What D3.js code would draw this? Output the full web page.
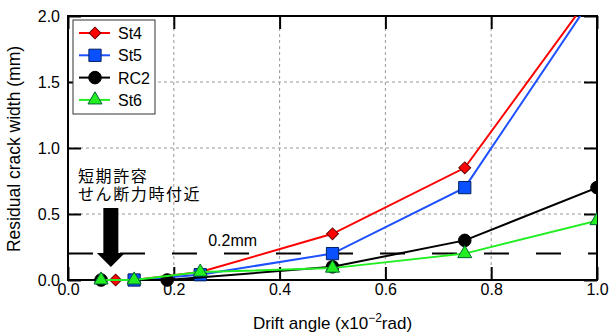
<!DOCTYPE html>
<html>
<head>
<meta charset="utf-8">
<script src="https://cdn.jsdelivr.net/npm/d3@7"></script>
<style>
  body { margin: 0; background: #fff; }
  text { font-family: "Liberation Sans", Arial, sans-serif; }
  .jp { font-family: "Noto Sans CJK JP", sans-serif; }
</style>
</head>
<body>
<svg id="chart"></svg>
<script>
// Series data (drift x10^-2 rad, residual crack width mm)
const st4Drift = [0.09, 0.125, 0.25, 0.5, 0.75, 1.0];
const st4Width = [0, 0, 0.06, 0.35, 0.85, 2.22];
const st5Drift = [0.125, 0.25, 0.5, 0.75, 1.0];
const st5Width = [0, 0.04, 0.2, 0.7, 2.19];
const rc2Drift = [0.0625, 0.1875, 0.5, 0.75, 1.0];
const rc2Width = [0, 0, 0.1, 0.3, 0.7];
const st6Drift = [0.0625, 0.125, 0.25, 0.5, 0.75, 1.0];
const st6Width = [0, 0, 0.06, 0.09, 0.2, 0.45];

const xTicks = [0, 0.2, 0.4, 0.6, 0.8, 1.0];
const yTicks = [0, 0.5, 1.0, 1.5, 2.0];
const limitWidth = 0.2;     // 0.2mm reference line
const arrowDrift = 0.081;   // short-term allowable shear marker

const W = 609, H = 334;
const margin = { top: 16, right: 12, bottom: 54, left: 68 };
const width = W - margin.left - margin.right;
const height = H - margin.top - margin.bottom;

const svg = d3.select("#chart").attr("width", W).attr("height", H);
const g = svg.append("g").attr("transform", `translate(${margin.left},${margin.top})`);

const x = d3.scaleLinear().domain([0, 1]).range([0, width]);
const y = d3.scaleLinear().domain([0, 2]).range([height, 0]);

// grid
g.append("g").selectAll("line").data(xTicks.slice(1, -1)).enter().append("line")
  .attr("x1", d => x(d)).attr("x2", d => x(d)).attr("y1", 0).attr("y2", height)
  .attr("stroke", "#999").attr("stroke-dasharray", "3,3");
g.append("g").selectAll("line").data(yTicks.slice(1, -1)).enter().append("line")
  .attr("y1", d => y(d)).attr("y2", d => y(d)).attr("x1", 0).attr("x2", width)
  .attr("stroke", "#999").attr("stroke-dasharray", "3,3");

// 0.2mm dashed line
g.append("line")
  .attr("x1", x(0)).attr("x2", x(1)).attr("y1", y(limitWidth)).attr("y2", y(limitWidth))
  .attr("stroke", "#000").attr("stroke-width", 2).attr("stroke-dasharray", "25,27");
g.append("text").attr("x", x(0.265)).attr("y", y(limitWidth) - 8)
  .attr("font-size", 16).text("0.2mm");

// axes with inward ticks on all sides
const tickLen = 13;
const axB = g.append("g").attr("transform", `translate(0,${height})`)
  .call(d3.axisBottom(x).tickValues(xTicks).tickSize(-tickLen).tickPadding(4).tickFormat(d3.format(".1f")));
const axT = g.append("g")
  .call(d3.axisTop(x).tickValues(xTicks).tickSize(-tickLen).tickFormat(""));
const axL = g.append("g")
  .call(d3.axisLeft(y).tickValues(yTicks).tickSize(-tickLen).tickPadding(8).tickFormat(d3.format(".1f")));
const axR = g.append("g").attr("transform", `translate(${width},0)`)
  .call(d3.axisRight(y).tickValues(yTicks).tickSize(-tickLen).tickFormat(""));
[axB, axT, axL, axR].forEach(a => {
  a.select(".domain").remove();
  a.selectAll(".tick line").attr("stroke", "#000").attr("stroke-width", 2);
  a.selectAll("text").attr("font-size", 16).attr("fill", "#000")
    .attr("font-family", "'Liberation Sans', Arial, sans-serif");
});

// frame
g.append("rect").attr("width", width).attr("height", height)
  .attr("fill", "none").attr("stroke", "#000").attr("stroke-width", 2);

// series
svg.append("clipPath").attr("id", "plotClip")
  .append("rect").attr("x", -8).attr("y", 0).attr("width", width + 8).attr("height", height + 10);

const series = [
  { name: "St4", xs: st4Drift, ys: st4Width, color: "#ff0000", fill: "#ff0000", stroke: "#600", symbol: d3.symbolSquare, size: 70, rot: 45 },
  { name: "St5", xs: st5Drift, ys: st5Width, color: "#1e50ff", fill: "#0a50ff", stroke: "#002060", symbol: d3.symbolSquare, size: 150, rot: 0 },
  { name: "RC2", xs: rc2Drift, ys: rc2Width, color: "#000000", fill: "#000000", stroke: "#000", symbol: d3.symbolCircle, size: 125, rot: 0 },
  { name: "St6", xs: st6Drift, ys: st6Width, color: "#22ee22", fill: "#22ee22", stroke: "#063", symbol: d3.symbolTriangle, size: 85, rot: 0 }
];

const line = d3.line().x(d => x(d[0])).y(d => y(d[1]));
const plot = g.append("g").attr("clip-path", "url(#plotClip)");

series.forEach(s => {
  const pts = s.xs.map((v, i) => [v, s.ys[i]]);
  plot.append("path").datum(pts).attr("d", line)
    .attr("fill", "none").attr("stroke", s.color).attr("stroke-width", 2);
  plot.selectAll(null).data(pts).enter().append("path")
    .attr("d", d3.symbol().type(s.symbol).size(s.size))
    .attr("transform", d => `translate(${x(d[0])},${y(d[1])}) rotate(${s.rot})`)
    .attr("fill", s.fill).attr("stroke", s.stroke).attr("stroke-width", 1);
});

// annotation text and arrow
g.append("text").attr("class", "jp").attr("font-size", 16).attr("letter-spacing", 1.6)
  .attr("x", 10).attr("y", 166).text("短期許容");
g.append("text").attr("class", "jp").attr("font-size", 16).attr("letter-spacing", 1.6)
  .attr("x", 10).attr("y", 184).text("せん断力時付近");

const ax = x(arrowDrift);
const arrowTop = 192, headTop = 237, tip = 251;
g.append("path")
  .attr("d", `M${ax - 7.5},${arrowTop} L${ax + 7.5},${arrowTop} L${ax + 7.5},${headTop} L${ax + 14},${headTop} L${ax},${tip} L${ax - 14},${headTop} L${ax - 7.5},${headTop} Z`)
  .attr("fill", "#000");

// legend
const lg = g.append("g").attr("transform", "translate(5,4)");
lg.append("rect").attr("width", 82).attr("height", 94)
  .attr("fill", "#fff").attr("stroke", "#333").attr("stroke-width", 1);
series.forEach((s, i) => {
  const ly = 13 + i * 22.3;
  lg.append("line").attr("x1", 6).attr("x2", 37).attr("y1", ly).attr("y2", ly)
    .attr("stroke", s.color).attr("stroke-width", 2);
  lg.append("path").attr("d", d3.symbol().type(s.symbol).size(s.size))
    .attr("transform", `translate(22,${ly}) rotate(${s.rot})`)
    .attr("fill", s.fill).attr("stroke", s.stroke).attr("stroke-width", 1);
  lg.append("text").attr("x", 45).attr("y", ly + 6).attr("font-size", 16).text(s.name);
});

// axis titles
const xt = svg.append("text").attr("x", margin.left + width / 2).attr("y", 329)
  .attr("text-anchor", "middle").attr("font-size", 17);
xt.append("tspan").text("Drift angle (x10");
xt.append("tspan").attr("font-size", 12).attr("dy", -7).text("−2");
xt.append("tspan").attr("dy", 7).text("rad)");

svg.append("text").attr("transform", `translate(20,${margin.top + height / 2 + 1}) rotate(-90)`)
  .attr("text-anchor", "middle").attr("font-size", 17.5).text("Residual crack width (mm)");
</script>
</body>
</html>
